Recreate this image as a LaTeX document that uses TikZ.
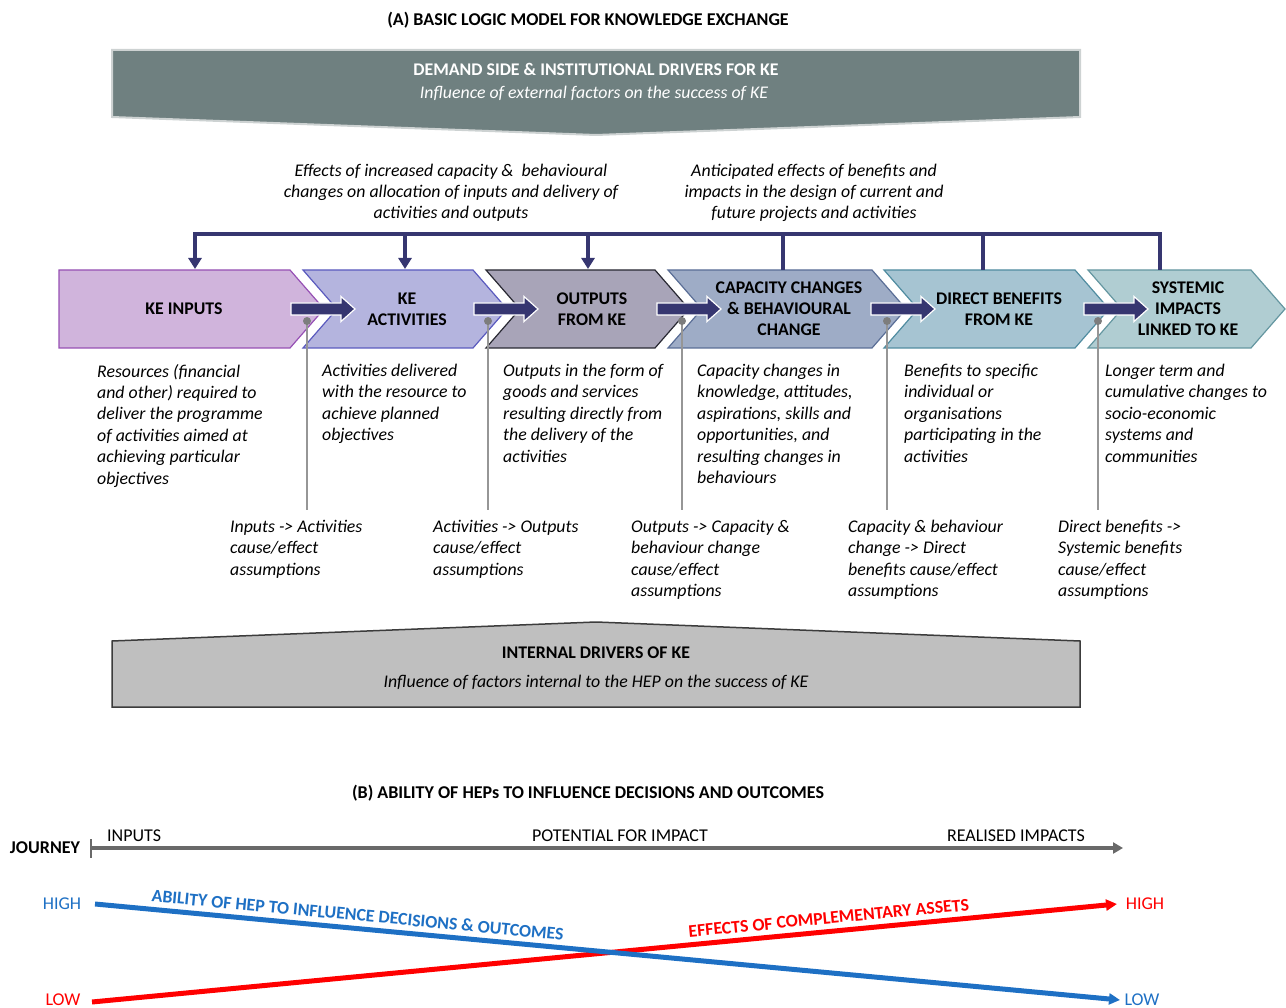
\documentclass[tikz,border=0pt]{standalone}
\usepackage{fontspec}
\setmainfont{Carlito}
\usetikzlibrary{arrows.meta}
\definecolor{banner}{RGB}{111,128,128}
\definecolor{bannerEdge}{RGB}{205,210,210}
\definecolor{navy}{RGB}{54,54,112}
\definecolor{fillA}{RGB}{208,180,220}\definecolor{drawA}{RGB}{150,80,180}
\definecolor{fillB}{RGB}{180,180,222}\definecolor{drawB}{RGB}{90,90,190}
\definecolor{fillC}{RGB}{168,164,184}\definecolor{drawC}{RGB}{40,40,50}
\definecolor{fillD}{RGB}{158,172,198}\definecolor{drawD}{RGB}{90,110,150}
\definecolor{fillE}{RGB}{166,196,210}\definecolor{drawE}{RGB}{80,140,160}
\definecolor{fillF}{RGB}{176,205,210}\definecolor{drawF}{RGB}{100,150,160}
\definecolor{greyline}{RGB}{150,150,150}
\definecolor{greydot}{RGB}{125,125,125}
\definecolor{internal}{RGB}{191,191,191}
\definecolor{internalEdge}{RGB}{60,60,60}
\definecolor{journey}{RGB}{105,105,105}
\definecolor{blueline}{RGB}{30,112,196}
\definecolor{redline}{RGB}{255,0,0}
\begin{document}
\begin{tikzpicture}[x=1pt,y=-1pt,
  title/.style={font=\fontsize{18}{21}\selectfont\bfseries, inner sep=0pt},
  chevlabel/.style={font=\fontsize{17.8}{21}\selectfont\bfseries, align=center, inner sep=0pt},
  desc/.style={font=\fontsize{17.8}{21.4}\selectfont\itshape, align=left, anchor=north west, inner sep=0pt},
  upper/.style={font=\fontsize{17.8}{21}\selectfont\itshape, align=center, anchor=north, inner sep=0pt},
  chev/.style={line width=1.2pt, line join=miter},
  blockarrow/.style={fill=navy, draw=white, line width=1.2pt},
  assumline/.style={draw=greyline, line width=2pt},
  bracket/.style={draw=navy, line width=3.5pt},
  downarrow/.style={bracket, -{Triangle[length=11pt,width=13pt]}},
  journeylbl/.style={font=\fontsize{18}{21}\selectfont, inner sep=0pt},
  lvl/.style={font=\fontsize{18}{21}\selectfont, inner sep=0pt},
  slopelbl/.style={font=\fontsize{17.8}{21}\selectfont\bfseries, inner sep=0pt}
]
\useasboundingbox (0,0) rectangle (1286,1008);

% ---------- (A) title ----------
\node[title] (titleA) at (588,20) {(A) BASIC LOGIC MODEL FOR KNOWLEDGE EXCHANGE};

% ---------- top banner ----------
\fill[banner, draw=bannerEdge, line width=2pt] (112,50) -- (1080,50) -- (1080,117) -- (596,135) -- (112,117) -- cycle;
\node[font=\fontsize{17.8}{21}\selectfont\bfseries, text=white, inner sep=0pt] (demand) at (596,69) {DEMAND SIDE \& INSTITUTIONAL DRIVERS FOR KE};
\node[font=\fontsize{17.8}{21}\selectfont\itshape, text=white, inner sep=0pt] (demandsub) at (594,93) {Influence of external factors on the success of KE};

% ---------- upper labels ----------
\node[upper] (effL) at (451,164) {Effects of increased capacity \&\ \ behavioural\\changes on allocation of inputs and delivery of\\activities and outputs};
\node[upper] (effR) at (814,164) {Anticipated effects of benefits and\\impacts in the design of current and\\future projects and activities};

% ---------- chevrons ----------
\filldraw[chev, fill=fillA, draw=drawA] (59,270) -- (290,270) -- (324,309) -- (290,348) -- (59,348) -- cycle;
\filldraw[chev, fill=fillB, draw=drawB] (303,270) -- (473,270) -- (507,309) -- (473,348) -- (303,348) -- (337,309) -- cycle;
\filldraw[chev, fill=fillC, draw=drawC] (486,270) -- (655,270) -- (689,309) -- (655,348) -- (486,348) -- (520,309) -- cycle;
\filldraw[chev, fill=fillD, draw=drawD] (668,270) -- (872,270) -- (906,309) -- (872,348) -- (668,348) -- (702,309) -- cycle;
\filldraw[chev, fill=fillE, draw=drawE] (884,270) -- (1075,270) -- (1109,309) -- (1075,348) -- (884,348) -- (918,309) -- cycle;
\filldraw[chev, fill=fillF, draw=drawF] (1088,270) -- (1251,270) -- (1285,309) -- (1251,348) -- (1088,348) -- (1122,309) -- cycle;

\node[chevlabel] (c1) at (184,309) {KE INPUTS};
\node[chevlabel] (c2) at (407,309) {KE\\ACTIVITIES};
\node[chevlabel] (c3) at (592,309) {OUTPUTS\\FROM KE};
\node[chevlabel] (c4) at (789,309) {CAPACITY CHANGES\\\& BEHAVIOURAL\\CHANGE};
\node[chevlabel] (c5) at (999,309) {DIRECT BENEFITS\\FROM KE};
\node[chevlabel] (c6) at (1188,309) {SYSTEMIC\\IMPACTS\\LINKED TO KE};

% ---------- feedback bracket ----------
\coordinate (b1) at (195,234); \coordinate (b2) at (405,234); \coordinate (b3) at (588,234);
\coordinate (b4) at (783,234); \coordinate (b5) at (983,234); \coordinate (b6) at (1160,234);
\coordinate (t1) at (195,269); \coordinate (t2) at (405,269); \coordinate (t3) at (588,269);
\coordinate (t4) at (783,270); \coordinate (t5) at (983,270); \coordinate (t6) at (1160,270);
\draw[bracket, line cap=rect] (b1) -- (b6);
\draw[downarrow] (b1) -- (t1);
\draw[downarrow] (b2) -- (t2);
\draw[downarrow] (b3) -- (t3);
\draw[bracket] (b4) -- (t4);
\draw[bracket] (b5) -- (t5);
\draw[bracket] (b6) -- (t6);

% ---------- block arrows between chevrons ----------
\foreach \x in {291,474,657,871,1084}{
  \filldraw[blockarrow] (\x,303) -- (\x+50,303) -- (\x+50,296.5) -- (\x+64,309) -- (\x+50,321.5) -- (\x+50,315) -- (\x,315) -- cycle;
}

% ---------- assumption connectors ----------
\coordinate (d1) at (307,321); \coordinate (e1) at (307,510);
\coordinate (d2) at (488,321); \coordinate (e2) at (488,510);
\coordinate (d3) at (682,321); \coordinate (e3) at (682,510);
\coordinate (d4) at (887,321); \coordinate (e4) at (887,510);
\coordinate (d5) at (1098,321); \coordinate (e5) at (1098,510);
\foreach \i in {1,...,5}{
  \draw[assumline] (d\i) -- (e\i);
  \fill[greydot] (d\i) circle (4);
}

% ---------- descriptions ----------
\node[desc] (s1) at (97,364) {Resources (financial\\and other) required to\\deliver the programme\\of activities aimed at\\achieving particular\\objectives};
\node[desc] (s2) at (322,364) {Activities delivered\\with the resource to\\achieve planned\\objectives};
\node[desc] (s3) at (503,364) {Outputs in the form of\\goods and services\\resulting directly from\\the delivery of the\\activities};
\node[desc] (s4) at (697,364) {Capacity changes in\\knowledge, attitudes,\\aspirations, skills and\\opportunities, and\\resulting changes in\\behaviours};
\node[desc] (s5) at (904,364) {Benefits to specific\\individual or\\organisations\\participating in the\\activities};
\node[desc] (s6) at (1105,364) {Longer term and\\cumulative changes to\\socio-economic\\systems and\\communities};

% ---------- assumptions ----------
\node[desc] (a1) at (230,520) {Inputs -> Activities\\cause/effect\\assumptions};
\node[desc] (a2) at (433,520) {Activities -> Outputs\\cause/effect\\assumptions};
\node[desc] (a3) at (631,520) {Outputs -> Capacity \&\\behaviour change\\cause/effect\\assumptions};
\node[desc] (a4) at (848,520) {Capacity \& behaviour\\change -> Direct\\benefits cause/effect\\assumptions};
\node[desc] (a5) at (1058,520) {Direct benefits ->\\Systemic benefits\\cause/effect\\assumptions};

% ---------- internal drivers ----------
\filldraw[fill=internal, draw=internalEdge, line width=1.5pt] (112,707) -- (1080,707) -- (1080,641) -- (596,622) -- (112,641) -- cycle;
\node[font=\fontsize{17.8}{21}\selectfont\bfseries, inner sep=0pt] (internal) at (596,653) {INTERNAL DRIVERS OF KE};
\node[font=\fontsize{17.8}{21}\selectfont\itshape, inner sep=0pt] (internalsub) at (596,682) {Influence of factors internal to the HEP on the success of KE};

% ---------- (B) ----------
\node[title] (titleB) at (588,793) {(B) ABILITY OF HEPs TO INFLUENCE DECISIONS AND OUTCOMES};
\node[font=\fontsize{18}{21}\selectfont\bfseries, inner sep=0pt] (journey) at (45,848) {JOURNEY};
\coordinate (j0) at (91,848); \coordinate (j1) at (1123,848);
\draw[journey, line width=4pt, -{Triangle[length=10pt,width=11pt]}] (j0) -- (j1);
\draw[journey, line width=2.5pt] (91,839) -- (91,858);
\node[journeylbl, anchor=west] (inputs) at (107,836) {INPUTS};
\node[journeylbl] (potential) at (620,836) {POTENTIAL FOR IMPACT};
\node[journeylbl] (realised) at (1016,836) {REALISED IMPACTS};

\node[lvl, text=blueline] (highL) at (62,904) {HIGH};
\node[lvl, text=redline] (lowL) at (63,1000) {LOW};
\node[lvl, text=redline] (highR) at (1145,904) {HIGH};
\node[lvl, text=blueline] (lowR) at (1142,1000) {LOW};

\coordinate (bs) at (95,904); \coordinate (be) at (1120,1000);
\coordinate (rs) at (92,1002); \coordinate (re) at (1117,904);
\draw[redline, line width=5pt, -{Triangle[length=11pt,width=11pt]}] (rs) -- (re)
  node[pos=0.72, sloped, above=5pt, text=redline, slopelbl] (effC) {EFFECTS OF COMPLEMENTARY ASSETS};
\draw[blueline, line width=5pt, -{Triangle[length=11pt,width=11pt]}] (bs) -- (be)
  node[pos=0.255, sloped, above=5pt, text=blueline, slopelbl] (abil) {ABILITY OF HEP TO INFLUENCE DECISIONS \& OUTCOMES};
\end{tikzpicture}
\end{document}
